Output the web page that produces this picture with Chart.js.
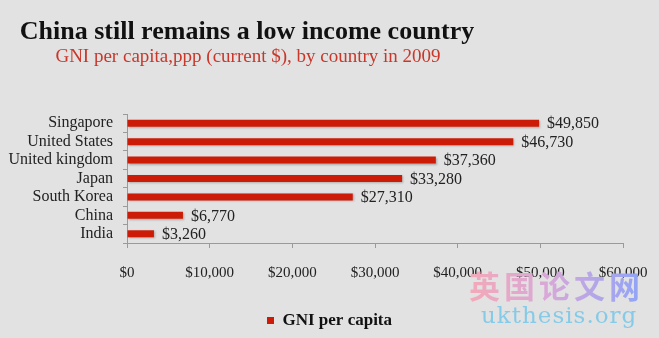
<!DOCTYPE html>
<html>
<head>
<meta charset="utf-8">
<script src="https://cdn.jsdelivr.net/npm/chart.js@4"></script>
<style>
  html, body { margin: 0; padding: 0; background: #e2e2e2; }
  #wrap { position: relative; width: 659px; height: 338px; overflow: hidden; }
  #wm1 {
    position: absolute; left: 469px; top: 262px;
    font: bold 31px "Noto Sans CJK SC"; letter-spacing: 4px;
    background: linear-gradient(90deg, #f3a9b8 0%, #d8a8d8 45%, #8ea4f8 100%);
    -webkit-background-clip: text; background-clip: text; color: transparent;
  }
  #wm2 {
    position: absolute; left: 481px; top: 302px;
    font: 23px "DejaVu Serif"; letter-spacing: 1px; color: #85cbe8;
  }
</style>
</head>
<body>
<div id="wrap">
  <canvas id="gniChart" width="659" height="338"></canvas>
  <div id="wm1">英国论文网</div>
  <div id="wm2">ukthesis.org</div>
</div>
<script>
// dados
const paises = ['Singapore', 'United States', 'United kingdom', 'Japan', 'South Korea', 'China', 'India'];
const gniValores = [49850, 46730, 37360, 33280, 27310, 6770, 3260];
const xTicks = [0, 10000, 20000, 30000, 40000, 50000, 60000];

const TITULO = 'China still remains a low income country';
const SUBTITULO = 'GNI per capita,ppp (current $), by country in 2009';
const COR_BARRA = '#cc1c08';
const FONTE = 'Liberation Serif';

function dinheiro(v) {
    return '$' + v.toLocaleString('en-US');
}

// título e subtítulo desenhados no topo
const tituloPlugin = {
    id: 'titulo',
    afterDraw(chart) {
        const ctx = chart.ctx;
        ctx.save();
        ctx.textAlign = 'center';
        ctx.textBaseline = 'middle';
        ctx.fillStyle = '#111';
        ctx.font = `bold 26px "${FONTE}"`;
        ctx.fillText(TITULO, 247, 32);
        ctx.fillStyle = '#c8372a';
        ctx.font = `19px "${FONTE}"`;
        ctx.fillText(SUBTITULO, 248, 57);
        ctx.restore();
    }
};

// legenda um pouco deslocada para a direita e para baixo
const legendaPlugin = {
    id: 'legendaPos',
    afterLayout(chart) {
        const lg = chart.legend;
        if (!lg) return;
        lg.left += 18; lg.right += 18;
        lg.top += 3; lg.bottom += 3;
    }
};

// sombra leve nas barras
const sombraPlugin = {
    id: 'sombra',
    beforeDatasetsDraw(chart) {
        const ctx = chart.ctx;
        ctx.save();
        ctx.shadowColor = 'rgba(0,0,0,0.25)';
        ctx.shadowBlur = 2;
        ctx.shadowOffsetX = 1;
        ctx.shadowOffsetY = 1;
    },
    afterDatasetsDraw(chart) {
        chart.ctx.restore();
    }
};

// rótulos de valor à direita de cada barra
const rotulosPlugin = {
    id: 'rotulos',
    afterDatasetsDraw(chart) {
        const ctx = chart.ctx;
        const meta = chart.getDatasetMeta(0);
        ctx.save();
        ctx.font = `16px "${FONTE}"`;
        ctx.fillStyle = '#222';
        ctx.textAlign = 'left';
        ctx.textBaseline = 'middle';
        meta.data.forEach((bar, i) => {
            ctx.fillText(dinheiro(gniValores[i]), bar.x + 8, bar.y + 1);
        });
        ctx.restore();
    }
};

new Chart(document.getElementById('gniChart'), {
    type: 'bar',
    data: {
        labels: paises,
        datasets: [{
            label: 'GNI per capita',
            data: gniValores,
            backgroundColor: COR_BARRA,
            borderWidth: 0,
            barPercentage: 0.38,
            categoryPercentage: 1
        }]
    },
    options: {
        indexAxis: 'y',
        responsive: false,
        animation: false,
        layout: { padding: { top: 114, right: 36, bottom: 2, left: 0 } },
        scales: {
            x: {
                min: 0,
                max: 60000,
                afterBuildTicks: axis => { axis.ticks = xTicks.map(v => ({ value: v })); },
                afterFit: axis => {
                    axis.height = 56;
                    axis.paddingLeft = 0;
                    axis.paddingRight = 0;
                },
                grid: { drawOnChartArea: false, tickLength: 5, color: '#9a9a9a' },
                border: { color: '#9a9a9a' },
                ticks: {
                    padding: 16,
                    maxRotation: 0,
                    color: '#222',
                    font: { family: FONTE, size: 15 },
                    callback: v => dinheiro(v)
                }
            },
            y: {
                afterFit: axis => { axis.width = 127; },
                grid: { drawOnChartArea: false, tickLength: 4, color: '#9a9a9a', offset: true },
                border: { color: '#9a9a9a' },
                ticks: {
                    autoSkip: false,
                    padding: 10,
                    color: '#222',
                    font: { family: FONTE, size: 16 }
                }
            }
        },
        plugins: {
            legend: {
                position: 'bottom',
                labels: {
                    boxWidth: 7,
                    boxHeight: 7,
                    padding: 10,
                    color: '#111',
                    font: { family: FONTE, size: 17, weight: 'bold' }
                }
            },
            tooltip: { enabled: false }
        }
    },
    plugins: [tituloPlugin, legendaPlugin, sombraPlugin, rotulosPlugin]
});
</script>
</body>
</html>
